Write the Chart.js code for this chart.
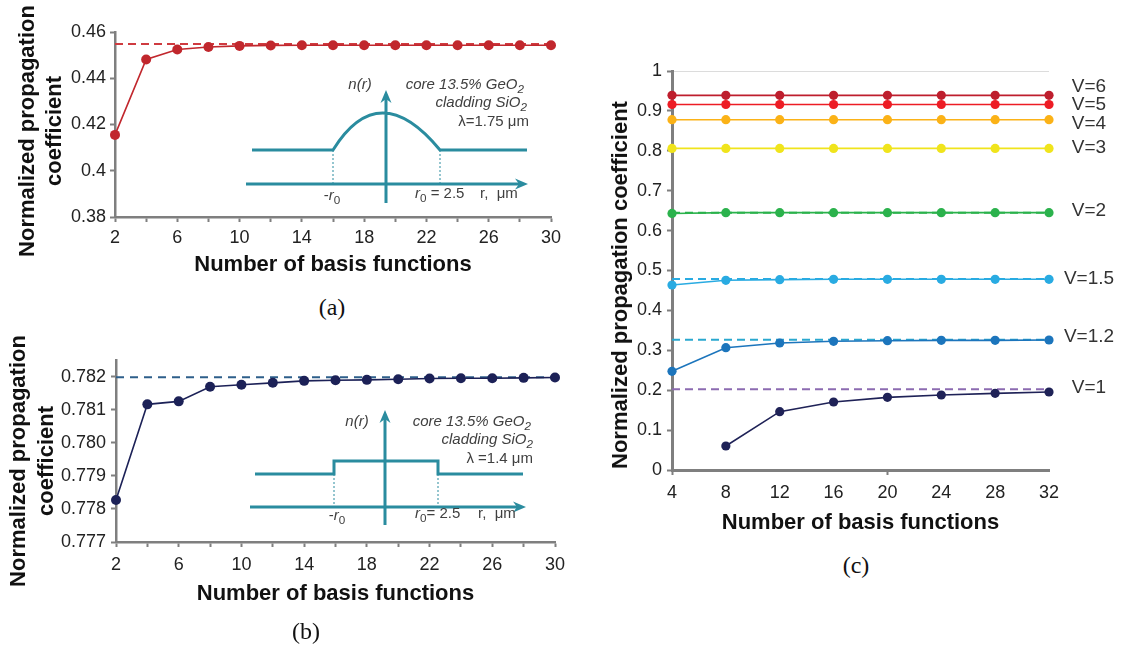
<!DOCTYPE html>
<html>
<head>
<meta charset="utf-8">
<script src="https://cdn.jsdelivr.net/npm/chart.js@4.4.1/dist/chart.umd.min.js"></script>
<style>
  body { margin: 0; background: #fff; }
  #page { position: relative; width: 1123px; height: 648px; overflow: hidden; background: #fff; font-family: "Liberation Sans", Arial, sans-serif; }
  canvas { position: absolute; }
  .ytitle { position: absolute; font-weight: bold; font-size: 22px; color: #111; white-space: nowrap; text-align: center; transform: translate(-50%, -50%) rotate(-90deg); }
  .tag { position: absolute; font-family: "Liberation Serif", "Times New Roman", serif; font-size: 24px; color: #111; transform: translate(-50%, -50%); }
</style>
</head>
<body>
<div id="page">
  <canvas id="chartA" width="580" height="290" style="left:0;top:0"></canvas>
  <canvas id="chartB" width="580" height="290" style="left:0;top:330px"></canvas>
  <canvas id="chartC" width="543" height="510" style="left:580px;top:40px"></canvas>
  <div class="ytitle" style="left:40px;top:131px;line-height:27px">Normalized propagation<br>coefficient</div>
  <div class="ytitle" style="left:32px;top:461px;line-height:28px">Normalized propagation<br>coefficient</div>
  <div class="ytitle" style="left:620px;top:285px">Normalized propagation coefficient</div>
  <div class="tag" style="left:332px;top:307px">(a)</div>
  <div class="tag" style="left:306px;top:631px">(b)</div>
  <div class="tag" style="left:856px;top:565px">(c)</div>
</div>
<script>
// (a) graded profile
const nA = [2, 4, 6, 8, 10, 12, 14, 16, 18, 20, 22, 24, 26, 28, 30];
const betaA = [0.4155, 0.4481, 0.4524, 0.4535, 0.4540, 0.4542, 0.4543, 0.4543, 0.4543, 0.4543, 0.4543, 0.4543, 0.4543, 0.4543, 0.4543];
const refA = 0.4548;
const xLabelsA = [2, 6, 10, 14, 18, 22, 26, 30];
const yTicksA = [0.38, 0.40, 0.42, 0.44, 0.46];

// (b) step profile
const nB = [2, 4, 6, 8, 10, 12, 14, 16, 18, 20, 22, 24, 26, 28, 30];
const betaB = [0.77827, 0.78116, 0.78125, 0.78169, 0.78175, 0.78181, 0.78187, 0.78189, 0.78190, 0.78192, 0.78194, 0.78195, 0.78195, 0.78196, 0.78197];
const refB = 0.78198;
const xLabelsB = [2, 6, 10, 14, 18, 22, 26, 30];
const yTicksB = [0.777, 0.778, 0.779, 0.780, 0.781, 0.782];

// (c) different V
const nC = [4, 8, 12, 16, 20, 24, 28, 32];
const v6 = [0.939, 0.939, 0.939, 0.939, 0.939, 0.939, 0.939, 0.939];
const v5 = [0.916, 0.916, 0.916, 0.916, 0.916, 0.916, 0.916, 0.916];
const v4 = [0.878, 0.878, 0.878, 0.878, 0.878, 0.878, 0.878, 0.878];
const v3 = [0.806, 0.806, 0.806, 0.806, 0.806, 0.806, 0.806, 0.806];
const v2 = [0.643, 0.645, 0.645, 0.645, 0.645, 0.645, 0.645, 0.645];
const v15 = [0.4637, 0.4754, 0.4771, 0.478, 0.478, 0.478, 0.478, 0.478];
const v12 = [0.2473, 0.3066, 0.3183, 0.3225, 0.3241, 0.325, 0.325, 0.3258];
const v1 = [null, 0.0602, 0.1462, 0.1704, 0.1821, 0.188, 0.1921, 0.1955];
const refV2 = 0.645, refV15 = 0.4787, refV12 = 0.3267, refV1 = 0.2022;
const yTicksC = [0, 0.1, 0.2, 0.3, 0.4, 0.5, 0.6, 0.7, 0.8, 0.9, 1];
const vLabels = ['V=6', 'V=5', 'V=4', 'V=3', 'V=2', 'V=1.5', 'V=1.2', 'V=1'];
const vLabelY = [0.96, 0.915, 0.868, 0.807, 0.649, 0.479, 0.333, 0.206];

Chart.defaults.font.family = '"Liberation Sans", Arial, sans-serif';
Chart.defaults.color = '#222';

const AXIS = '#7f7f7f';
const TEAL = '#2a8c9f';
const FONT = '"Liberation Sans", Arial, sans-serif';

function pts(xs, ys) { return xs.map((x, i) => ({ x: x, y: ys[i] })); }
function flat(xs, y) { return [{ x: xs[0], y: y }, { x: xs[xs.length - 1], y: y }]; }

function solid(data, color, r) {
  return { data: data, borderColor: color, backgroundColor: color, borderWidth: 1.6,
    pointRadius: r, pointBorderWidth: 0, pointBackgroundColor: color, tension: 0, clip: false };
}
function dashed(data, color, dash) {
  return { data: data, borderColor: color, borderWidth: 2, borderDash: dash, pointRadius: 0, tension: 0, clip: false };
}

// small helper to write text with subscripts on the canvas
function rich(ctx, parts, x, y, align, size) {
  const f = s => (s.indexOf('i') >= 0 ? 'italic ' : '') + (s.indexOf('s') >= 0 ? size * 0.78 : size) + 'px ' + FONT;
  const w = parts.map(p => { ctx.font = f(p[1]); return ctx.measureText(p[0]).width; });
  const total = w.reduce((a, b) => a + b, 0);
  let cx = align === 'right' ? x - total : align === 'center' ? x - total / 2 : x;
  ctx.textAlign = 'left';
  ctx.textBaseline = 'middle';
  parts.forEach((p, i) => {
    ctx.font = f(p[1]);
    ctx.fillText(p[0], cx, y + (p[1].indexOf('s') >= 0 ? size * 0.32 : 0));
    cx += w[i];
  });
}

function arrowHead(ctx, x, y, dir) {
  ctx.beginPath();
  if (dir === 'right') {
    ctx.moveTo(x, y); ctx.lineTo(x - 13, y - 5.5); ctx.lineTo(x - 9, y); ctx.lineTo(x - 13, y + 5.5);
  } else {
    ctx.moveTo(x, y); ctx.lineTo(x - 5.5, y + 13); ctx.lineTo(x, y + 9); ctx.lineTo(x + 5.5, y + 13);
  }
  ctx.closePath();
  ctx.fill();
}

// refractive index profile sketch drawn inside the plot
function inset(o) {
  return {
    id: 'inset',
    afterDraw(chart) {
      const ctx = chart.ctx;
      ctx.save();
      ctx.strokeStyle = TEAL; ctx.fillStyle = TEAL; ctx.lineWidth = 3;
      ctx.beginPath();
      ctx.moveTo(o.rx0, o.ry); ctx.lineTo(o.rx1 - 6, o.ry);
      ctx.moveTo(o.nx, o.ny0); ctx.lineTo(o.nx, o.ny1 + 6);
      ctx.moveTo(o.clL, o.cladY); ctx.lineTo(o.rL, o.cladY);
      if (o.step) {
        ctx.lineTo(o.rL, o.coreY); ctx.lineTo(o.rR, o.coreY); ctx.lineTo(o.rR, o.cladY);
      } else {
        ctx.quadraticCurveTo(o.cx, o.coreY, o.rR, o.cladY);
      }
      ctx.lineTo(o.clR, o.cladY);
      ctx.stroke();
      arrowHead(ctx, o.rx1, o.ry, 'right');
      arrowHead(ctx, o.nx, o.ny1, 'up');
      ctx.lineWidth = 1; ctx.setLineDash([2, 2]);
      ctx.beginPath();
      ctx.moveTo(o.rL, o.cladY); ctx.lineTo(o.rL, o.ry);
      ctx.moveTo(o.rR, o.cladY); ctx.lineTo(o.rR, o.ry);
      ctx.stroke();
      ctx.setLineDash([]);
      ctx.fillStyle = '#404040';
      o.texts.forEach(t => rich(ctx, t.parts, t.x, t.y, t.align, 15));
      ctx.restore();
    }
  };
}

const vLabelPlugin = {
  id: 'vlabels',
  afterDatasetsDraw(chart) {
    const ctx = chart.ctx, ys = chart.scales.y, x = chart.chartArea.right + 40;
    ctx.save();
    ctx.font = '19px ' + FONT; ctx.fillStyle = '#333';
    ctx.textAlign = 'center'; ctx.textBaseline = 'middle';
    vLabels.forEach((t, i) => ctx.fillText(t, x, ys.getPixelForValue(vLabelY[i])));
    ctx.restore();
  }
};

function makeChart(id, datasets, o, plugins) {
  return new Chart(document.getElementById(id), {
    type: 'line',
    data: { datasets: datasets },
    options: {
      responsive: false, animation: false, devicePixelRatio: 1,
      layout: { padding: { left: 0, top: o.top, right: o.right, bottom: 0 } },
      plugins: { legend: { display: false }, tooltip: { enabled: false } },
      scales: {
        x: {
          type: 'linear', min: o.xTicks[0], max: o.xTicks[o.xTicks.length - 1],
          afterBuildTicks: s => { s.ticks = o.xTicks.map(v => ({ value: v })); },
          afterFit: s => { s.height = o.xHeight; },
          ticks: { autoSkip: false, maxRotation: 0, padding: o.xPad, font: { size: 18 }, color: '#222',
            callback: v => o.xLabels.indexOf(v) >= 0 ? String(v) : '' },
          grid: { drawOnChartArea: false, tickLength: 5, tickWidth: 2, color: o.xTickColor || AXIS },
          border: { color: AXIS, width: o.axisW },
          title: { display: true, text: 'Number of basis functions', color: '#111',
            font: { size: 22, weight: 'bold' }, padding: { top: 0, bottom: o.titlePad } }
        },
        y: {
          min: o.yMin, max: o.yMax,
          afterBuildTicks: s => { s.ticks = o.yTicks.map(v => ({ value: v })); },
          afterFit: s => { s.width = o.yWidth; },
          ticks: { autoSkip: false, padding: o.yPad, font: { size: 18 }, color: '#222', callback: o.yFmt },
          grid: { drawOnChartArea: !!o.yGrid, tickLength: 5, tickWidth: 2,
            color: o.yGrid || AXIS, tickColor: AXIS },
          border: { color: AXIS, width: o.axisW }
        }
      }
    },
    plugins: plugins
  });
}

makeChart('chartA', [
  solid(pts(nA, betaA), '#c1272d', 5),
  dashed(flat(nA, refA), '#cf3b40', [8, 5])
], {
  top: 32, right: 29, xHeight: 73, yWidth: 115, xPad: 5, yPad: 4, titlePad: 12, axisW: 2.5,
  xTicks: nA, xLabels: xLabelsA, yTicks: yTicksA, yMin: 0.38, yMax: 0.46,
  yFmt: v => String(+v.toFixed(2))
}, [inset({
  rx0: 246, rx1: 528, ry: 184, nx: 386, ny0: 203, ny1: 90,
  clL: 252, clR: 527, rL: 333, rR: 440, cladY: 150, coreY: 76, cx: 379, step: false,
  texts: [
    { parts: [['n(r)', 'i']], x: 360, y: 85, align: 'center' },
    { parts: [['core 13.5% GeO', 'i'], ['2', 'is']], x: 524, y: 85, align: 'right' },
    { parts: [['cladding SiO', 'i'], ['2', 'is']], x: 527, y: 103, align: 'right' },
    { parts: [['λ=1.75 μm', 'n']], x: 529, y: 122, align: 'right' },
    { parts: [['-', 'n'], ['r', 'i'], ['0', 's']], x: 332, y: 196, align: 'center' },
    { parts: [['r', 'i'], ['0', 's'], [' = 2.5', 'n']], x: 415, y: 194, align: 'left' },
    { parts: [['r,  μm', 'n']], x: 480, y: 194, align: 'left' }
  ]
})]);

makeChart('chartB', [
  solid(pts(nB, betaB), '#1c2157', 5),
  dashed(flat(nB, refB), '#2e5f8a', [8, 6])
], {
  top: 30, right: 25, xHeight: 78, yWidth: 116, xPad: 7, yPad: 5, titlePad: 13, axisW: 2.5,
  xTicks: nB, xLabels: xLabelsB, yTicks: yTicksB, yMin: 0.777, yMax: 0.7825,
  yFmt: v => v.toFixed(3)
}, [inset({
  rx0: 250, rx1: 526, ry: 177, nx: 385, ny0: 195, ny1: 80,
  clL: 255, clR: 523, rL: 334, rR: 438, cladY: 144, coreY: 131, step: true,
  texts: [
    { parts: [['n(r)', 'i']], x: 357, y: 92, align: 'center' },
    { parts: [['core 13.5% GeO', 'i'], ['2', 'is']], x: 531, y: 92, align: 'right' },
    { parts: [['cladding SiO', 'i'], ['2', 'is']], x: 533, y: 110, align: 'right' },
    { parts: [['λ =1.4 μm', 'n']], x: 533, y: 129, align: 'right' },
    { parts: [['-', 'n'], ['r', 'i'], ['0', 's']], x: 337, y: 186, align: 'center' },
    { parts: [['r', 'i'], ['0', 's'], ['= 2.5', 'n']], x: 415, y: 184, align: 'left' },
    { parts: [['r,  μm', 'n']], x: 478, y: 184, align: 'left' }
  ]
})]);

const seriesC = [
  { data: v6, color: '#be1e2d' },
  { data: v5, color: '#ed1c24' },
  { data: v4, color: '#fbb217' },
  { data: v3, color: '#f0e41c' },
  { data: v2, color: '#2bb24c' },
  { data: v15, color: '#29abe2' },
  { data: v12, color: '#1c75bc' },
  { data: v1, color: '#1f2257' }
];
const refsC = [
  { y: refV2, color: '#2bb24c' },
  { y: refV15, color: '#29abe2' },
  { y: refV12, color: '#2aa8cf' },
  { y: refV1, color: '#8c6bb1' }
];

makeChart('chartC',
  seriesC.map(s => solid(pts(nC, s.data), s.color, 4.6))
    .concat(refsC.map(r => dashed(flat(nC, r.y), r.color, [8, 5]))),
  {
    top: 31, right: 74, xHeight: 80, yWidth: 92, xPad: 7, yPad: 5, titlePad: 14, axisW: 3,
    xTicks: nC, xLabels: nC, yTicks: yTicksC, yMin: 0, yMax: 1,
    xTickColor: c => (c.tick && (c.tick.value === 4 || c.tick.value === 20)) ? AXIS : 'rgba(0,0,0,0)',
    yGrid: c => (c.tick && c.tick.value === 1) ? '#dcdcdc' : 'rgba(0,0,0,0)',
    yFmt: v => String(+v.toFixed(1))
  }, [vLabelPlugin]);
</script>
</body>
</html>
